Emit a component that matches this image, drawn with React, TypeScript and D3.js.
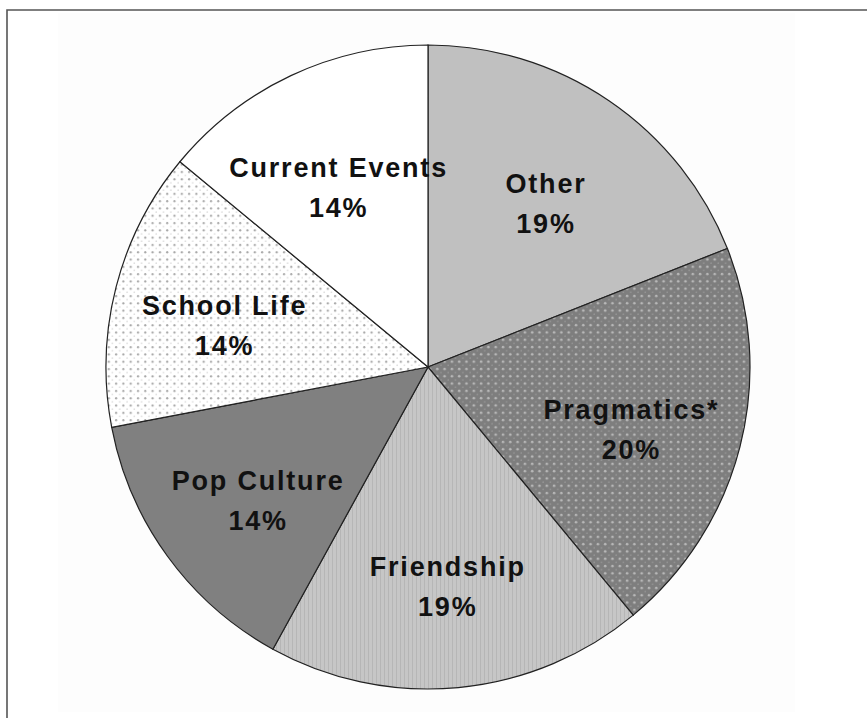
import React from "react";
import * as d3 from "d3";

const categories = ["Other", "Pragmatics*", "Friendship", "Pop Culture", "School Life", "Current Events"];
const values = [19, 20, 19, 14, 14, 14];
const fills = ["#c0c0c0", "url(#dotsDark)", "url(#stripes)", "#808080", "url(#dotsLight)", "#ffffff"];

const W = 867;
const H = 718;
const cx = 428;
const cy = 367;
const R = 322;
const labelR = 210;

export default function App() {
  const data = categories.map((c, i) => ({ name: c, value: values[i], fill: fills[i] }));
  const pie = d3.pie<any>().value((d) => d.value).sort(null).startAngle(0).endAngle(2 * Math.PI);
  const arcs = pie(data);
  const arc = d3.arc<any>().innerRadius(0).outerRadius(R);
  const labelArc = d3.arc<any>().innerRadius(labelR).outerRadius(labelR);

  return (
    <svg width={W} height={H} style={{ position: "absolute", left: 0, top: 0, background: "#fff" }}>
      <defs>
        <pattern id="dotsDark" patternUnits="userSpaceOnUse" width={7.3} height={7.3}>
          <rect width={7.3} height={7.3} fill="#7e7e7e" />
          <circle cx={2} cy={2} r={1.3} fill="#b8b8b8" />
          <circle cx={5.65} cy={5.65} r={0.8} fill="#969696" />
        </pattern>
        <pattern id="dotsLight" patternUnits="userSpaceOnUse" width={7.3} height={7.3}>
          <rect width={7.3} height={7.3} fill="#ffffff" />
          <circle cx={2} cy={2} r={1.1} fill="#a8a8a8" />
          <circle cx={5.65} cy={5.65} r={0.8} fill="#dcdcdc" />
        </pattern>
        <pattern id="stripes" patternUnits="userSpaceOnUse" width={4} height={4}>
          <rect width={4} height={4} fill="#c6c6c6" />
          <rect x={0} width={1} height={4} fill="#b6b6b6" />
        </pattern>
      </defs>
      <rect x={58} y={13} width={737} height={699} fill="#fdfdfd" />
      <path d={`M ${W + 2} 10 L 7 10 L 7 ${H + 2}`} fill="none" stroke="#555" strokeWidth={1.6} />
      <g transform={`translate(${cx},${cy})`}>
        {arcs.map((a, i) => (
          <path key={i} d={arc(a) as string} fill={a.data.fill} stroke="#222" strokeWidth={1.2} />
        ))}
        {arcs.map((a, i) => {
          const [x, y] = labelArc.centroid(a);
          return (
            <text
              key={"t" + i}
              x={x}
              y={y}
              textAnchor="middle"
              fontFamily="'Liberation Sans', Arial, sans-serif"
              fontWeight="bold"
              fontSize={27}
              letterSpacing={1.8}
              fill="#111"
            >
              <tspan x={x} dy={0}>{a.data.name}</tspan>
              <tspan x={x} dy={40}>{a.data.value + "%"}</tspan>
            </text>
          );
        })}
      </g>
    </svg>
  );
}
